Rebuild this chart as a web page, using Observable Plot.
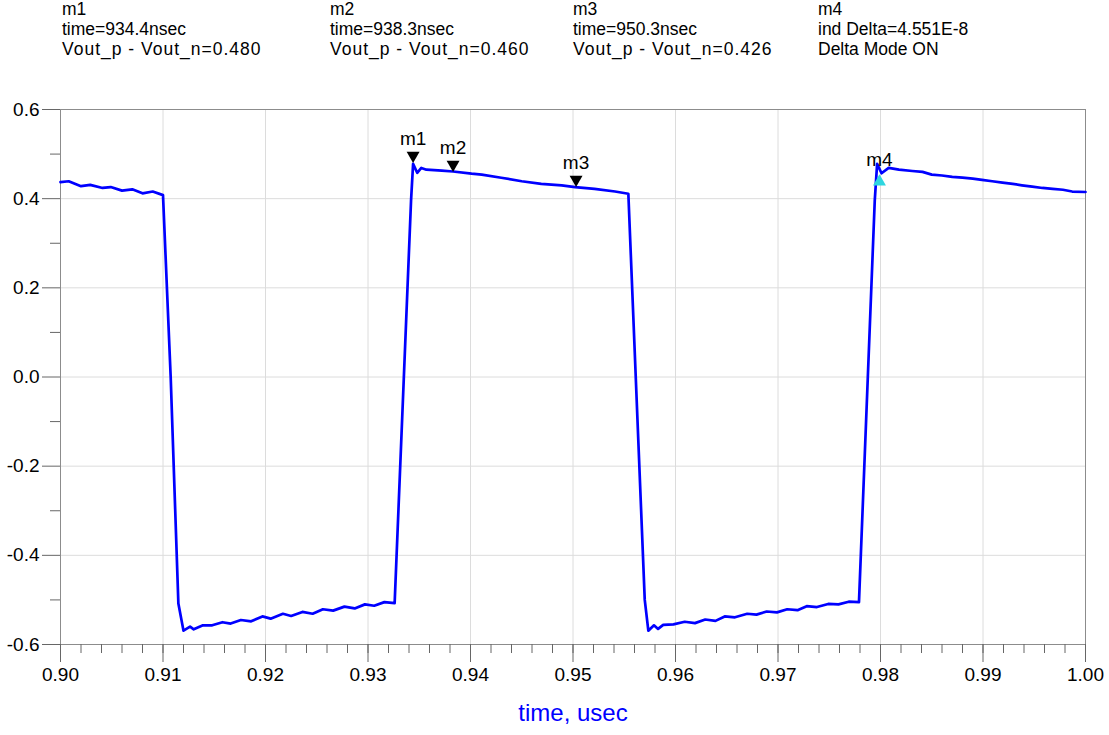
<!DOCTYPE html>
<html><head><meta charset="utf-8">
<script src="https://cdn.jsdelivr.net/npm/d3@7"></script>
<script src="https://cdn.jsdelivr.net/npm/@observablehq/plot@0.6"></script>
<style>
body{margin:0;background:#fff;font-family:Arial,"Liberation Sans",sans-serif;}
#header{position:relative;height:70px;width:1109px;}
.ln{position:absolute;font-size:17.5px;line-height:20px;height:20px;color:#000;white-space:pre;}
</style></head><body>
<div id="header"></div><div id="chart"></div>
<script>
// ---- data ----
const times = [
  0.9000,0.9008,0.9020,0.9029,0.9041,0.9049,0.9060,0.9070,0.9080,0.9090,0.9100,0.91075,0.9115,
  0.9120,0.91264,0.9130,0.9139,0.9148,0.9158,0.9166,0.9176,0.9186,0.9197,0.9205,0.9217,0.9225,0.9236,0.9246,0.9256,0.9266,0.9277,0.9287,0.9297,0.9306,0.9316,0.9326,
  0.9342,0.9344,0.9348,0.9352,0.9357,0.9372,0.9383,0.9401,0.9411,0.9430,0.9450,0.9469,0.9489,0.9502,0.9521,0.9541,0.9554,
  0.9570,0.95735,0.9579,0.9583,0.9588,0.9598,0.9609,0.9619,0.9629,0.9639,0.9648,0.9658,0.9670,0.9679,0.9689,0.9699,0.9709,0.9719,0.9728,0.9738,0.9749,0.9759,0.9769,0.9779,
  0.97944,0.97967,0.9801,0.9808,0.9818,0.9831,0.9841,0.9850,0.9860,0.9870,0.9880,0.9890,0.9899,0.9909,0.9919,0.9929,0.9938,0.9948,0.9958,0.9968,0.9978,0.9987,1.0000
];
const vdiff = [
  0.437,0.439,0.428,0.431,0.424,0.426,0.418,0.421,0.412,0.416,0.408,0.000,-0.508,
  -0.569,-0.560,-0.566,-0.557,-0.557,-0.550,-0.553,-0.545,-0.548,-0.537,-0.542,-0.531,-0.536,-0.527,-0.531,-0.521,-0.524,-0.515,-0.519,-0.510,-0.513,-0.505,-0.507,
  0.396,0.478,0.458,0.469,0.465,0.463,0.461,0.456,0.454,0.447,0.439,0.433,0.430,0.426,0.422,0.416,0.411,
  -0.500,-0.569,-0.557,-0.565,-0.556,-0.555,-0.549,-0.552,-0.544,-0.547,-0.537,-0.539,-0.531,-0.533,-0.526,-0.528,-0.521,-0.523,-0.514,-0.516,-0.509,-0.510,-0.504,-0.505,
  0.396,0.478,0.457,0.469,0.465,0.462,0.460,0.454,0.452,0.449,0.447,0.445,0.442,0.439,0.436,0.433,0.430,0.427,0.424,0.422,0.420,0.416,0.415
];
const markerNames = ["m1","m2","m3","m4"];
const markerTimes = [0.9344, 0.9383, 0.9503, 0.9799];
const markerValues = [0.480, 0.460, 0.426, 0.455];
const markerKinds = ["down","down","down","up"];
const headerLines = [
  ["m1","time=934.4nsec","Vout_p - Vout_n=0.480"],
  ["m2","time=938.3nsec","Vout_p - Vout_n=0.460"],
  ["m3","time=950.3nsec","Vout_p - Vout_n=0.426"],
  ["m4","ind Delta=4.551E-8","Delta Mode ON"]
];
const xMajor = [0.90,0.91,0.92,0.93,0.94,0.95,0.96,0.97,0.98,0.99,1.00];
const xMinor = d3.range(0, 51).map(i => 0.9 + i * 0.002);
const yMajor = [-0.6,-0.4,-0.2,0.0,0.2,0.4,0.6];
const yMinor = [-0.5,-0.3,-0.1,0.1,0.3,0.5];
const xLabel = "time, usec";

// ---- header ----
const headerX = [62, 330, 573, 818];
const header = document.getElementById("header");
headerLines.forEach((lines, i) => {
  lines.forEach((txt, j) => {
    const d = document.createElement("div");
    d.className = "ln";
    d.style.left = headerX[i] + "px";
    d.style.top = (j * 20 - 1) + "px";
    if (txt.startsWith("Vout")) d.style.letterSpacing = "1px";
    d.textContent = txt;
    header.appendChild(d);
  });
});

// ---- chart ----
const wave = times.map((t, i) => ({t, v: vdiff[i]}));
const markers = markerNames.map((name, i) => ({name, t: markerTimes[i], v: markerValues[i], kind: markerKinds[i]}));
const down = markers.filter(d => d.kind === "down");
const up = markers.filter(d => d.kind === "up");

const chart = Plot.plot({
  width: 1109,
  height: 665,
  marginTop: 39,
  marginBottom: 91,
  marginLeft: 60,
  marginRight: 24,
  x: {domain: [0.9, 1.0]},
  y: {domain: [-0.6, 0.6]},
  style: {fontFamily: "Arial, 'Liberation Sans', sans-serif", fontSize: "19px", background: "#fff", color: "#000"},
  marks: [
    Plot.gridX(xMajor, {stroke: "#dcdcdc", strokeOpacity: 1}),
    Plot.gridY(yMajor, {stroke: "#dcdcdc", strokeOpacity: 1}),
    Plot.frame({stroke: "#8c8c8c"}),
    Plot.axisX(xMajor, {tickSize: 18, tickPadding: 5, tickFormat: d => d.toFixed(2), label: null, stroke: "#666", fill: "#000", fontSize: 19}),
    Plot.axisX(xMinor, {tickSize: 9, tickFormat: () => "", label: null, stroke: "#666"}),
    Plot.axisY(yMajor, {tickSize: 18, tickPadding: 3, tickFormat: d => d.toFixed(1), label: null, stroke: "#666", fill: "#000", fontSize: 19}),
    Plot.axisY(yMinor, {tickSize: 10, tickFormat: () => "", label: null, stroke: "#666"}),
    Plot.line(wave, {x: "t", y: "v", stroke: "#0000ff", strokeWidth: 2.7, strokeLinejoin: "round"}),
    Plot.dot(down, {x: "t", y: "v", symbol: "triangle", rotate: 180, r: 4.8, fill: "#000", dy: -7.5}),
    Plot.dot(up, {x: "t", y: "v", symbol: "triangle", r: 4.8, fill: "#2fd6e0", dy: 7.5}),
    Plot.text(down, {x: "t", y: "v", text: "name", dy: -24, fontSize: 19, fill: "#000"}),
    Plot.text(up, {x: "t", y: "v", text: "name", dy: -14, fontSize: 19, fill: "#000"}),
    Plot.text([xLabel], {frameAnchor: "bottom", text: d => d, dy: 76, fill: "#0000ff", fontSize: 24})
  ]
});
document.getElementById("chart").appendChild(chart);
</script>
</body></html>
